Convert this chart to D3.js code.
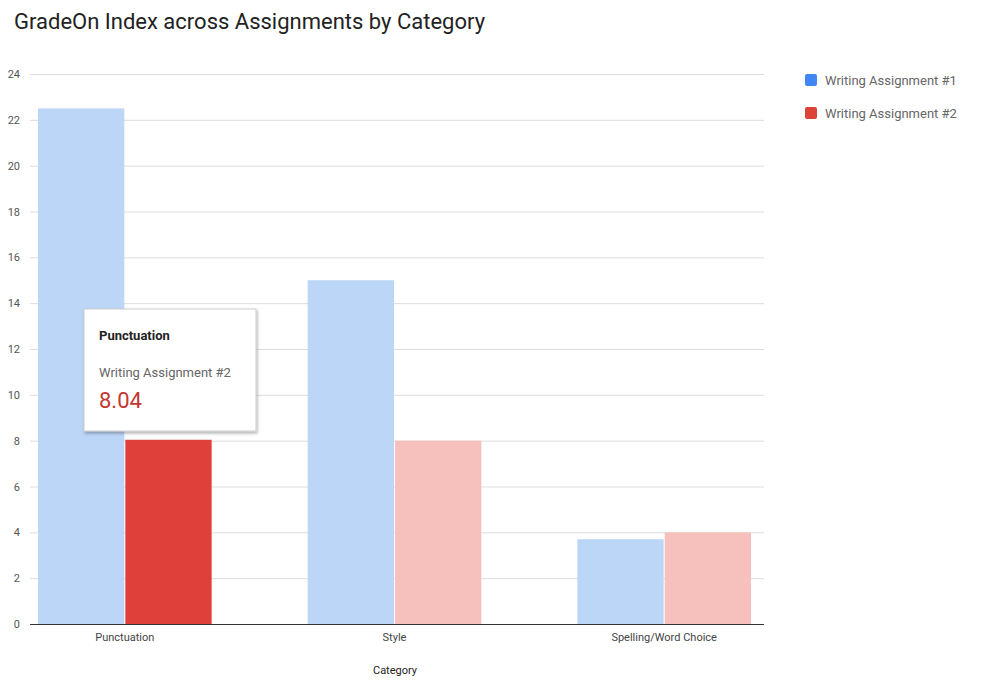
<!DOCTYPE html>
<html><head><meta charset="utf-8">
<script src="https://cdn.jsdelivr.net/npm/d3@7"></script>
<style>body{margin:0;background:#fff;font-family:Roboto,sans-serif}</style>
</head><body>
<svg id="c" width="986" height="693"></svg>
<script>
const categories = ["Punctuation","Style","Spelling/Word Choice"];
const series = ["Writing Assignment #1","Writing Assignment #2"];
const assignment1 = [22.5, 15, 3.7];
const assignment2 = [8.04, 8, 4];
const yTicks = [0,2,4,6,8,10,12,14,16,18,20,22,24];

const svg = d3.select("#c");
const y = d3.scaleLinear().domain([0,24]).range([624,74]);
const x = d3.scaleBand().domain(categories).range([38,751]).paddingInner(0.356).paddingOuter(0);
const xs = d3.scaleBand().domain(series).range([0,x.bandwidth()]).paddingInner(0.012);
const full = ["#4285f4","#db4437"], faded = ["#bcd6f8","#f6c1bd"], hl = "#e0403a";

svg.append("text").attr("x",14).attr("y",29).attr("font-size",22).attr("fill","#222").text("GradeOn Index across Assignments by Category");

const gy = svg.append("g");
yTicks.forEach(t=>{
  gy.append("line").attr("x1",30).attr("x2",764).attr("y1",y(t)+0.5).attr("y2",y(t)+0.5).attr("stroke",t===0?"#333":"#ddd");
  gy.append("text").attr("x",20).attr("y",y(t)+4).attr("text-anchor","end").attr("font-size",11).attr("fill","#555").text(t);
});

const data = categories.map((c,i)=>({c, v:[assignment1[i],assignment2[i]]}));
data.forEach((d,i)=>{
  d.v.forEach((v,j)=>{
    const highlighted = (i===0 && j===1);
    svg.append("rect").attr("x",x(d.c)+xs(series[j])).attr("width",xs.bandwidth())
      .attr("y",y(v)).attr("height",y(0)-y(v)).attr("fill",highlighted?hl:faded[j]);
  });
  svg.append("text").attr("x",x(d.c)+x.bandwidth()/2).attr("y",641).attr("text-anchor","middle").attr("font-size",11).attr("fill","#444").text(d.c);
});
svg.append("line").attr("x1",30).attr("x2",764).attr("y1",y(0)+0.5).attr("y2",y(0)+0.5).attr("stroke","#333");
svg.append("text").attr("x",395).attr("y",674).attr("text-anchor","middle").attr("font-size",11).attr("fill","#222").text("Category");

series.forEach((s,j)=>{
  svg.append("rect").attr("x",805).attr("y",74+j*33).attr("width",12).attr("height",12).attr("rx",2).attr("fill",full[j]);
  svg.append("text").attr("x",825).attr("y",85+j*33).attr("font-size",13).attr("fill","#666").text(s);
});

const defs = svg.append("defs");
const f = defs.append("filter").attr("id","sh").attr("x","-10%").attr("y","-10%").attr("width","130%").attr("height","130%");
f.append("feDropShadow").attr("dx",1).attr("dy",2).attr("stdDeviation",1.5).attr("flood-color","#000").attr("flood-opacity",0.3);
const tt = svg.append("g");
tt.append("rect").attr("x",84).attr("y",309).attr("width",172).attr("height",122).attr("fill","#fff").attr("stroke","#ccc").attr("filter","url(#sh)");
tt.append("text").attr("x",99).attr("y",340).attr("font-size",13).attr("font-weight","bold").attr("fill","#222").text(categories[0]);
tt.append("text").attr("x",99).attr("y",377).attr("font-size",13).attr("fill","#666").text(series[1]);
tt.append("text").attr("x",99).attr("y",408).attr("font-size",22).attr("fill","#c5362f").text(assignment2[0].toFixed(2));
</script>
</body></html>
